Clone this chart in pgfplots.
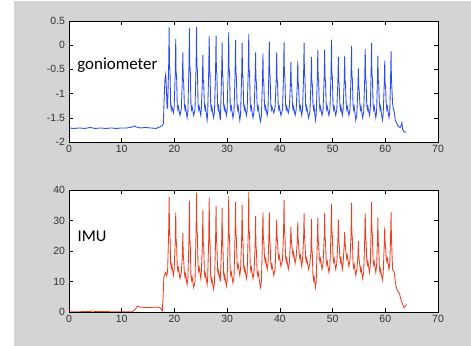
\documentclass[border=0pt]{standalone}
\usepackage{fontspec}
\setmainfont{Liberation Sans}
\newfontfamily\carlito{Carlito}
\usepackage{pgfplots}
\pgfplotsset{compat=1.18}
\definecolor{bggray}{RGB}{212,212,212}
\definecolor{gblue}{RGB}{40,75,245}
\definecolor{ired}{RGB}{240,60,30}
\definecolor{lblgray}{RGB}{50,50,50}
\pgfplotsset{
  mystyle/.style={
    scale only axis, width=369bp,
    xmin=0, xmax=70, xtick={0,10,...,70},
    xticklabels={0,10,20,30,40,50,60,70},
    axis background/.style={fill=white},
    tick align=inside, major tick length=4bp,
    every tick/.style={black, line width=0.5pt},
    axis line style={black, line width=0.6pt},
    tick label style={font=\fontsize{10.5}{11}\selectfont, text=lblgray},
    xticklabel style={yshift=0.5bp},
    yticklabel style={xshift=-0.5bp},
    clip=true,
  }
}
\begin{document}
\begin{tikzpicture}
\fill[white] (0bp,0bp) rectangle (471bp,346bp);
\fill[bggray] (14bp,0bp) rectangle (471bp,345bp);
\begin{axis}[mystyle, at={(69bp,204bp)}, anchor=south west, height=121bp,
  ymin=-2, ymax=0.5, ytick={-2,-1.5,-1,-0.5,0,0.5},
  yticklabels={-2,-1.5,-1,-0.5,0,0.5}]
\addplot[gblue, line width=0.85pt] coordinates {
(0,-1.71)(1,-1.72)(2,-1.71)(3,-1.72)(4,-1.70)(5,-1.72)(6,-1.71)(7,-1.72)(8,-1.71)(9,-1.72)(10,-1.71)(11,-1.71)(12,-1.69)(12.4,-1.67)(12.8,-1.69)(13.5,-1.71)(14.5,-1.70)(15.5,-1.71)(16.5,-1.72)(17.2,-1.69)(17.7,-1.66)(17.9,-1.62)(18.05,-1.1)(18.2,-0.7)(18.35,-0.6)(18.5,-0.95)(18.6,-1.3)
(18.7,-1.30)(18.9,-0.47)(19.0,0.37)(19.06,-0.42)(19.16,-0.52)(19.28,-1.22)(19.4,-1.33)(19.5,-1.27)(19.8,-1.40)
(19.95,-1.28)(20.15,-0.59)(20.25,0.13)(20.31,-0.54)(20.41,-0.64)(20.53,-1.22)(20.65,-1.33)(20.75,-1.27)(21.05,-1.45)
(21.3,-1.33)(21.5,-0.73)(21.6,-0.15)(21.66,-0.68)(21.76,-0.78)(21.88,-1.22)(22.0,-1.33)(22.1,-1.27)(22.4,-1.50)
(22.55,-1.38)(22.75,-0.47)(22.85,0.36)(22.91,-0.42)(23.01,-0.52)(23.13,-1.22)(23.25,-1.33)(23.35,-1.27)(23.65,-1.45)
(23.9,-1.33)(24.1,-0.46)(24.2,0.38)(24.26,-0.41)(24.36,-0.51)(24.48,-1.22)(24.6,-1.33)(24.7,-1.27)(25.0,-1.45)
(25.1,-1.33)(25.3,-0.75)(25.4,-0.20)(25.46,-0.70)(25.56,-0.80)(25.68,-1.22)(25.8,-1.33)(25.9,-1.27)(26.2,-1.55)
(26.3,-1.43)(26.5,-0.55)(26.6,0.20)(26.66,-0.50)(26.76,-0.60)(26.88,-1.22)(27.0,-1.33)(27.1,-1.27)(27.4,-1.50)
(27.6,-1.38)(27.8,-0.55)(27.9,0.20)(27.96,-0.50)(28.06,-0.60)(28.18,-1.22)(28.3,-1.33)(28.4,-1.27)(28.7,-1.55)
(28.75,-1.43)(28.95,-0.62)(29.05,0.06)(29.11,-0.57)(29.21,-0.67)(29.33,-1.22)(29.45,-1.33)(29.55,-1.27)(29.85,-1.45)
(30.0,-1.33)(30.2,-0.52)(30.3,0.27)(30.36,-0.47)(30.46,-0.57)(30.58,-1.22)(30.7,-1.33)(30.8,-1.27)(31.1,-1.50)
(31.3,-1.38)(31.5,-0.60)(31.6,0.11)(31.66,-0.55)(31.76,-0.65)(31.88,-1.22)(32.0,-1.33)(32.1,-1.27)(32.4,-1.55)
(32.55,-1.43)(32.75,-0.63)(32.85,0.05)(32.91,-0.58)(33.01,-0.68)(33.13,-1.22)(33.25,-1.33)(33.35,-1.27)(33.65,-1.45)
(33.8,-1.33)(34.0,-0.54)(34.1,0.23)(34.16,-0.49)(34.26,-0.59)(34.38,-1.22)(34.5,-1.33)(34.6,-1.27)(34.9,-1.50)
(35.1,-1.38)(35.3,-0.73)(35.4,-0.15)(35.46,-0.68)(35.56,-0.78)(35.68,-1.22)(35.8,-1.33)(35.9,-1.27)(36.3,-1.58)
(36.5,-1.46)(36.7,-0.74)(36.8,-0.17)(36.86,-0.69)(36.96,-0.79)(37.08,-1.22)(37.2,-1.33)(37.3,-1.27)(37.6,-1.45)
(37.75,-1.33)(37.9,-0.61)(38.0,0.08)(38.06,-0.56)(38.16,-0.66)(38.28,-1.22)(38.4,-1.33)(38.5,-1.27)(38.85,-1.40)
(39.1,-1.28)(39.3,-0.73)(39.4,-0.15)(39.46,-0.68)(39.56,-0.78)(39.68,-1.22)(39.8,-1.33)(39.9,-1.27)(40.2,-1.45)
(40.5,-1.33)(40.7,-0.62)(40.8,0.06)(40.86,-0.57)(40.96,-0.67)(41.08,-1.22)(41.2,-1.33)(41.3,-1.27)(41.6,-1.40)
(41.8,-1.28)(42.0,-0.82)(42.1,-0.34)(42.16,-0.77)(42.26,-0.87)(42.38,-1.22)(42.5,-1.33)(42.6,-1.27)(42.9,-1.45)
(43.1,-1.33)(43.3,-0.82)(43.4,-0.33)(43.46,-0.77)(43.56,-0.87)(43.68,-1.22)(43.8,-1.33)(43.9,-1.27)(44.15,-1.45)
(44.3,-1.33)(44.5,-0.63)(44.6,0.05)(44.66,-0.58)(44.76,-0.68)(44.88,-1.22)(45.0,-1.33)(45.1,-1.27)(45.45,-1.50)
(45.7,-1.38)(45.9,-0.77)(46.0,-0.24)(46.06,-0.72)(46.16,-0.82)(46.28,-1.22)(46.4,-1.33)(46.5,-1.27)(46.75,-1.55)
(46.9,-1.43)(47.1,-0.70)(47.2,-0.10)(47.26,-0.65)(47.36,-0.75)(47.48,-1.22)(47.6,-1.33)(47.7,-1.27)(48.0,-1.45)
(48.2,-1.33)(48.4,-0.70)(48.5,-0.10)(48.56,-0.65)(48.66,-0.75)(48.78,-1.22)(48.9,-1.33)(49.0,-1.27)(49.3,-1.45)
(49.5,-1.33)(49.7,-0.60)(49.8,0.11)(49.86,-0.55)(49.96,-0.65)(50.08,-1.22)(50.2,-1.33)(50.3,-1.27)(50.6,-1.45)
(50.8,-1.33)(51.0,-0.77)(51.1,-0.24)(51.16,-0.72)(51.26,-0.82)(51.38,-1.22)(51.5,-1.33)(51.6,-1.27)(51.85,-1.45)
(52.0,-1.33)(52.2,-0.76)(52.3,-0.22)(52.36,-0.71)(52.46,-0.81)(52.58,-1.22)(52.7,-1.33)(52.8,-1.27)(53.1,-1.45)
(53.3,-1.33)(53.5,-0.66)(53.6,-0.02)(53.66,-0.61)(53.76,-0.71)(53.88,-1.22)(54.0,-1.33)(54.1,-1.27)(54.4,-1.55)
(54.6,-1.43)(54.8,-0.89)(54.9,-0.48)(54.96,-0.84)(55.06,-0.94)(55.18,-1.22)(55.3,-1.33)(55.4,-1.27)(55.7,-1.50)
(55.9,-1.38)(56.1,-0.69)(56.2,-0.08)(56.26,-0.64)(56.36,-0.74)(56.48,-1.22)(56.6,-1.33)(56.7,-1.27)(57.0,-1.45)
(57.15,-1.33)(57.3,-0.63)(57.4,0.05)(57.46,-0.58)(57.56,-0.68)(57.68,-1.22)(57.8,-1.33)(57.9,-1.27)(58.2,-1.50)
(58.35,-1.38)(58.5,-0.76)(58.6,-0.22)(58.66,-0.71)(58.76,-0.81)(58.88,-1.22)(59.0,-1.33)(59.1,-1.27)(59.45,-1.55)
(59.6,-1.43)(59.8,-0.81)(59.9,-0.32)(59.96,-0.76)(60.06,-0.86)(60.18,-1.22)(60.3,-1.33)(60.4,-1.27)(60.7,-1.50)
(60.85,-1.38)(61.0,-0.72)(61.1,-0.13)(61.16,-0.67)(61.26,-0.9)(61.38,-1.2)(61.5,-1.3)(61.7,-1.38)(61.9,-1.55)(62.2,-1.62)(62.5,-1.68)(62.8,-1.7)(63.0,-1.66)(63.15,-1.6)(63.3,-1.74)(63.5,-1.78)(63.8,-1.8)(64.0,-1.8)
};
\node[anchor=west, font=\carlito\fontsize{17}{18}\selectfont, inner sep=0pt] at (rel axis cs:0.022,0.636) {goniometer};
\end{axis}
\begin{axis}[mystyle, at={(69bp,34bp)}, anchor=south west, height=122bp,
  ymin=0, ymax=40, ytick={0,10,...,40}, yticklabels={0,10,20,30,40}]
\addplot[ired, line width=0.85pt] coordinates {
(0,0.1)(2,0.1)(4,0.15)(4.4,0.35)(5,0.15)(8,0.1)(12,0.1)(12.5,0.8)(13,1.9)(13.5,1.6)(14.5,1.5)(15.5,1.5)(16.5,1.6)(17.2,1.5)(17.5,1.0)(17.7,0.3)(17.85,5)(18.0,11.5)(18.2,12.5)(18.35,13)(18.5,12)(18.7,13)
(18.9,26)(19.0,37.7)(19.06,27)(19.16,25)(19.28,16)(19.4,14.5)(19.5,15.5)(19.8,12)
(19.95,14)(20.15,23)(20.25,32.7)(20.31,24)(20.41,22)(20.53,15)(20.65,13.5)(20.75,14.5)(21.05,11)
(21.3,13)(21.5,18)(21.6,25.9)(21.66,19)(21.76,17)(21.88,13)(22.0,11.5)(22.1,12.5)(22.4,9)
(22.55,11)(22.75,23)(22.85,36.5)(22.91,24)(23.01,22)(23.13,12)(23.25,10.5)(23.35,11.5)(23.65,8)
(23.9,10)(24.1,26)(24.2,39.1)(24.26,27)(24.36,25)(24.48,15)(24.6,13.5)(24.7,14.5)(25.0,11)
(25.1,13)(25.3,22)(25.4,33.3)(25.46,23)(25.56,21)(25.68,13)(25.8,11.5)(25.9,12.5)(26.2,9)
(26.3,11)(26.5,23.5)(26.6,37.5)(26.66,24.5)(26.76,22.5)(26.88,11.5)(27.0,10)(27.1,11)(27.4,7.5)
(27.6,9.5)(27.8,23)(27.9,34.7)(27.96,24)(28.06,22)(28.18,14)(28.3,12.5)(28.4,13.5)(28.7,10)
(28.75,12)(28.95,22)(29.05,34.2)(29.11,23)(29.21,21)(29.33,12.5)(29.45,11)(29.55,12)(29.85,8.5)
(30.0,10.5)(30.2,25)(30.3,38.0)(30.36,26)(30.46,24)(30.58,13.5)(30.7,12)(30.8,13)(31.1,9.5)
(31.3,11.5)(31.5,25)(31.6,36.0)(31.66,26)(31.76,24)(31.88,16)(32.0,14.5)(32.1,15.5)(32.4,12)
(32.55,14)(32.75,24)(32.85,35.0)(32.91,25)(33.01,23)(33.13,15)(33.25,13.5)(33.35,14.5)(33.65,11)
(33.8,13)(34.0,26)(34.1,39.5)(34.16,27)(34.26,25)(34.38,15)(34.5,13.5)(34.6,14.5)(34.9,11)
(35.1,13)(35.3,21)(35.4,31.4)(35.46,22)(35.56,20)(35.68,13)(35.8,12)(35.9,13)(36.3,8)
(36.5,10)(36.7,24)(36.8,32.7)(36.86,25)(36.96,23)(37.08,18)(37.2,16.5)(37.3,17.5)(37.6,14)
(37.75,16)(37.9,23)(38.0,32.7)(38.06,24)(38.16,22)(38.28,16)(38.4,14.5)(38.5,15.5)(38.85,12)
(39.1,14)(39.3,24)(39.4,30.1)(39.46,25)(39.56,23)(39.68,19)(39.8,17.5)(39.9,18.5)(40.2,15)
(40.5,17)(40.7,26)(40.8,36.7)(40.86,27)(40.96,25)(41.08,18)(41.2,16.5)(41.3,17.5)(41.6,14)
(41.8,16)(42.0,23)(42.1,27.9)(42.16,24)(42.26,22)(42.38,20)(42.5,18.5)(42.6,19.5)(42.9,16)
(43.1,18)(43.3,23)(43.4,29.5)(43.46,24)(43.56,22)(43.68,19)(43.8,17.5)(43.9,18.5)(44.15,15)
(44.3,17)(44.5,24)(44.6,32.3)(44.66,25)(44.76,23)(44.88,18)(45.0,16.5)(45.1,17.5)(45.45,14)
(45.7,16)(45.9,20)(46.0,30.5)(46.06,21)(46.16,19)(46.28,12)(46.4,10.5)(46.5,11.5)(46.75,8)
(46.9,10)(47.1,23)(47.2,30.9)(47.26,24)(47.36,22)(47.48,18)(47.6,16.5)(47.7,17.5)(48.0,14)
(48.2,16)(48.4,24)(48.5,32.3)(48.56,25)(48.66,23)(48.78,17)(48.9,15.5)(49.0,16.5)(49.3,13)
(49.5,15)(49.7,26)(49.8,35.5)(49.86,27)(49.96,25)(50.08,18)(50.2,16.5)(50.3,17.5)(50.6,14)
(50.8,16)(51.0,23)(51.1,30.3)(51.16,24)(51.26,22)(51.38,18)(51.5,16.5)(51.6,17.5)(51.85,14)
(52.0,16)(52.2,22)(52.3,26.2)(52.36,23)(52.46,21)(52.58,19)(52.7,17.5)(52.8,18.5)(53.1,15)
(53.3,17)(53.5,25)(53.6,35.8)(53.66,26)(53.76,24)(53.88,16)(54.0,14.5)(54.1,15.5)(54.4,12)
(54.6,14)(54.8,18)(54.9,23.2)(54.96,19)(55.06,17)(55.18,15)(55.3,13.5)(55.4,14.5)(55.7,11)
(55.9,13)(56.1,24)(56.2,32.3)(56.26,25)(56.36,23)(56.48,17)(56.6,15.5)(56.7,16.5)(57.0,13)
(57.15,15)(57.3,26)(57.4,36.0)(57.46,27)(57.56,25)(57.68,17)(57.8,15.5)(57.9,16.5)(58.2,13)
(58.35,15)(58.5,22)(58.6,30.9)(58.66,23)(58.76,21)(58.88,14.5)(59.0,13)(59.1,14)(59.45,10.5)
(59.6,12.5)(59.8,22)(59.9,27.9)(59.96,23)(60.06,21)(60.18,18)(60.3,16.5)(60.4,17.5)(60.7,14)
(60.85,16)(61.0,24)(61.1,32.7)(61.16,25)(61.26,20)(61.38,14)(61.5,13.5)(61.7,13)(61.9,10)(62.1,8)(62.3,7)(62.5,6.5)(62.7,6)(62.9,4.5)(63.1,3.5)(63.3,2.5)(63.5,1.5)(63.7,1.6)(63.9,2.2)(64.0,2.5)
};
\node[anchor=west, font=\carlito\fontsize{16.5}{17}\selectfont, inner sep=0pt] at (rel axis cs:0.023,0.623) {IMU};
\end{axis}
\end{tikzpicture}
\end{document}
